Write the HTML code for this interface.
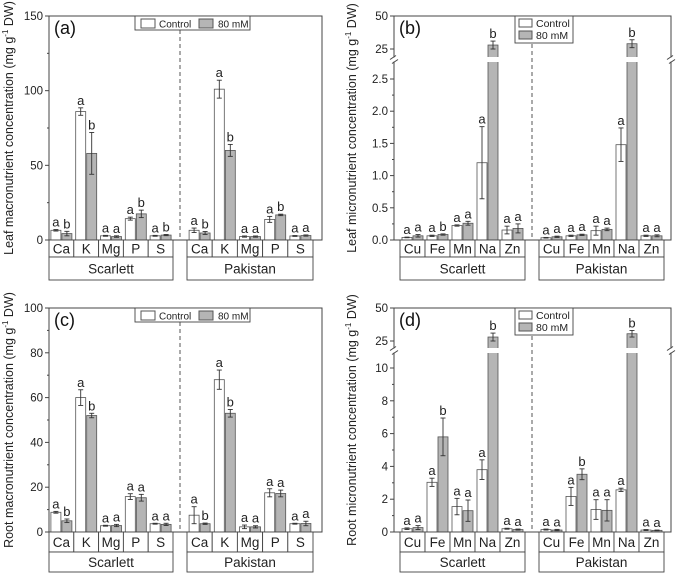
<!DOCTYPE html>
<html><head><meta charset="utf-8"><style>
body{margin:0;background:#fff}
svg{display:block;font-family:"Liberation Sans",sans-serif}
</style></head><body>
<svg id="fig" width="676" height="573" viewBox="0 0 676 573" xmlns="http://www.w3.org/2000/svg"></svg>
<script>
// ---------- data ----------
const macroCats = ["Ca","K","Mg","P","S"];
const microCats = ["Cu","Fe","Mn","Na","Zn"];
const groups = ["Scarlett","Pakistan"];

// panel a (leaf macro)
const aCtrl = [[6.5,86,2.8,14.3,2.8],[6.5,101,2.3,13.8,2.7]];
const aCtrlErr = [[0.5,2.5,0.3,1,0.3],[1.5,6,0.4,2,0.3]];
const aTrt = [[4.3,58,2.3,17.5,3.3],[4.7,60,2.3,16.8,3.0]];
const aTrtErr = [[1.5,14,0.5,2.5,0.4],[1,4,0.4,0.5,0.4]];
const aLetters = [["a","b","a","b","a","a","a","b","a","b"],["a","b","a","b","a","a","a","b","a","a"]];

// panel b (leaf micro)
const bCtrl = [[0.04,0.065,0.225,1.2,0.155],[0.035,0.065,0.145,1.48,0.065]];
const bCtrlErr = [[0.005,0.01,0.01,0.56,0.06],[0.005,0.01,0.07,0.26,0.01]];
const bTrt = [[0.065,0.085,0.26,28,0.18],[0.05,0.08,0.165,29,0.065]];
const bTrtErr = [[0.02,0.01,0.03,3,0.07],[0.01,0.01,0.02,3,0.015]];
const bLetters = [["a","a","a","b","a","a","a","b","a","a"],["a","a","a","a","a","a","a","b","a","a"]];

// panel c (root macro)
const cCtrl = [[8.8,60,2.8,15.8,3.7],[7.5,68,2.3,17.5,3.7]];
const cCtrlErr = [[0.4,3.5,0.2,1.3,0.2],[3.8,4.3,0.8,1.8,0.2]];
const cTrt = [[5,52,2.9,15.3,3.4],[3.7,53,2.3,17.2,3.8]];
const cTrtErr = [[0.8,1,0.5,1.5,0.5],[0.3,1.7,0.5,1.5,1]];
const cLetters = [["a","b","a","b","a","a","a","a","a","a"],["a","b","a","b","a","a","a","a","a","a"]];

// panel d (root micro)
const dCtrl = [[0.2,3.03,1.55,3.8,0.2],[0.15,2.17,1.37,2.57,0.12]];
const dCtrlErr = [[0.05,0.25,0.5,0.6,0.03],[0.03,0.55,0.6,0.1,0.03]];
const dTrt = [[0.27,5.8,1.3,28,0.15],[0.12,3.52,1.32,30.5,0.1]];
const dTrtErr = [[0.12,1.15,0.65,3,0.03],[0.04,0.33,0.65,2.5,0.02]];
const dLetters = [["a","a","a","b","a","a","a","b","a","a"],["a","a","a","b","a","a","a","b","a","a"]];

const aTicks = [0,50,100,150];
const bTicksLow = [0,0.5,1,1.5,2,2.5];
const bTicksLowLbl = ["0.0","0.5","1.0","1.5","2.0","2.5"];
const bTicksHigh = [25,50];
const cTicks = [0,20,40,60,80,100];
const dTicksLow = [0,2,4,6,8,10];
const dTicksHigh = [25,50];

// ---------- drawing ----------
const svg = document.getElementById('fig');
const NS = "http://www.w3.org/2000/svg";
function el(tag, attrs, parent, txt){
  const e = document.createElementNS(NS, tag);
  for (const k in attrs) e.setAttribute(k, attrs[k]);
  if (txt !== undefined) e.textContent = txt;
  (parent||svg).appendChild(e);
  return e;
}
const STROKE = "#444";
const GRAY = "#b5b5b5";

function panel(cfg){
  const g = el('g', {});
  
  
  const {x0,x1,yTop,yBot,groupBoxes,cats} = cfg;
  const Y = cfg.yScale;
  const fr = el('rect',{x:x0,y:yTop,width:x1-x0,height:yBot-yTop,fill:'none',stroke:STROKE,'stroke-width':1},g);
  
  
  const dx = (groupBoxes[0][1]+groupBoxes[1][0])/2;
  const ds = el('line',{x1:dx,x2:dx,y1:yTop,y2:yBot,stroke:'#555','stroke-dasharray':'4,3','stroke-width':1},g);
  
  
  cfg.ticks.forEach((t,i)=>{
    const y = Y(t);
    el('line',{x1:x0-4,x2:x0,y1:y,y2:y,stroke:STROKE},g);
    const tl = el('text',{x:x0-6,y:y+4,'text-anchor':'end','font-size':11.5,fill:'#222'},g,cfg.tickLabels?cfg.tickLabels[i]:String(t));
    
    
  });
  (cfg.minor||[]).forEach(t=>{const y=Y(t);el('line',{x1:x0-2,x2:x0,y1:y,y2:y,stroke:STROKE},g);});
  const yt = el('text',{x:0,y:0,'text-anchor':'middle','font-size':12.5,fill:'#222',transform:`translate(${cfg.titleX},${(yTop+yBot)/2}) rotate(-90)`},g);
  
  
  yt.appendChild(document.createTextNode(cfg.title+' (mg g'));
  el('tspan',{dy:-5,'font-size':8},yt,'-1');
  el('tspan',{dy:5},yt,' DW)');
  groups.forEach((gn,gi)=>{
    const [bx0,bx1] = groupBoxes[gi];
    const cw = (bx1-bx0)/cats.length;
    cats.forEach((c,ci)=>{
      const cx = bx0 + cw*(ci+0.5);
      const bw = 10;
      [[cfg.ctrl,cfg.ctrlErr,'#fff',cx-bw-0.5,'control'],[cfg.trt,cfg.trtErr,GRAY,cx+0.5,'treatment']].forEach(([vals,errs,fill,bx,kind],si)=>{
        const v = vals[gi][ci], e = errs[gi][ci];
        const yv = Y(v);
        const r = el('rect',{x:bx,y:yv,width:bw,height:yBot-yv,fill:fill,stroke:'#555','stroke-width':0.8},g);
        
        
        if (cfg.breakGap && yv < cfg.breakGap[0]) {
          el('rect',{x:bx-1,y:cfg.breakGap[0],width:bw+2,height:cfg.breakGap[1]-cfg.breakGap[0],fill:'#fff'},g);
        }
        const mx = bx+bw/2, yh = Y(v+e), yl = Y(Math.max(0,v-e));
        el('line',{x1:mx,x2:mx,y1:yh,y2:yl,stroke:'#333','stroke-width':0.9},g);
        el('line',{x1:mx-2.5,x2:mx+2.5,y1:yh,y2:yh,stroke:'#333','stroke-width':0.9},g);
        el('line',{x1:mx-2.5,x2:mx+2.5,y1:yl,y2:yl,stroke:'#333','stroke-width':0.9},g);
        const lt = el('text',{x:mx,y:yh-3,'text-anchor':'middle','font-size':13,fill:'#222'},g,cfg.letters[gi][ci*2+si]);
        
        
      });
      el('rect',{x:bx0+cw*ci,y:yBot,width:cw,height:cfg.catH,fill:'#fff',stroke:STROKE,'stroke-width':0.9},g);
      const ct = el('text',{x:cx,y:yBot+cfg.catH/2+5,'text-anchor':'middle','font-size':13.5,fill:'#222'},g,c);
      
      
    });
    el('rect',{x:bx0,y:yBot+cfg.catH,width:bx1-bx0,height:cfg.grpH,fill:'#fff',stroke:STROKE,'stroke-width':0.9},g);
    const gt = el('text',{x:(bx0+bx1)/2,y:yBot+cfg.catH+cfg.grpH/2+5,'text-anchor':'middle','font-size':13.5,fill:'#222'},g,gn);
    
    
  });
  if (cfg.breakGap){
    const ym = (cfg.breakGap[0]+cfg.breakGap[1])/2;
    [x0,x1].forEach(xx=>{
      el('rect',{x:xx-4,y:ym-2,width:8,height:4,fill:'#fff'},g);
      el('line',{x1:xx-4,x2:xx+2,y1:ym-0,y2:ym-4,stroke:STROKE},g);
      el('line',{x1:xx-2,x2:xx+4,y1:ym+4,y2:ym,stroke:STROKE},g);
    });
  }
  const pl = el('text',{x:x0+5,y:yTop+18,'font-size':18,fill:'#111'},g,'('+cfg.id+')');
  
  
  const L = cfg.legend;
  const lg = el('g',{},g);
  
  
  el('rect',{x:L.x,y:L.y,width:L.w,height:L.h,fill:'#fff',stroke:STROKE,'stroke-width':0.9},lg);
  if (L.horizontal){
    el('rect',{x:L.x+6,y:L.y+3,width:14,height:9,fill:'#fff',stroke:'#555'},lg);
    el('text',{x:L.x+24,y:L.y+11.5,'font-size':10,fill:'#222'},lg,'Control');
    el('rect',{x:L.x+64,y:L.y+3,width:14,height:9,fill:GRAY,stroke:'#555'},lg);
    el('text',{x:L.x+83,y:L.y+11.5,'font-size':10,fill:'#222'},lg,'80 mM');
  } else {
    el('rect',{x:L.x+4,y:L.y+3,width:13,height:8,fill:'#fff',stroke:'#555'},lg);
    el('text',{x:L.x+21,y:L.y+11,'font-size':10.5,fill:'#222'},lg,'Control');
    el('rect',{x:L.x+4,y:L.y+15,width:13,height:8,fill:GRAY,stroke:'#555'},lg);
    el('text',{x:L.x+21,y:L.y+23,'font-size':10.5,fill:'#222'},lg,'80 mM');
  }
}

function lin(v0,y0,v1,y1){return v=>y0+(v-v0)*(y1-y0)/(v1-v0);}
function brk(lowY0,lowSlope,lowMax,upY25,upSlope){
  return v=> v<=lowMax ? lowY0 - v*lowSlope : upY25 - (v-25)*upSlope;
}

const leftGB = [[49,173],[187,313]];
const rightGB = [[400,525],[539,664]];

panel({id:'a',x0:49,x1:322,yTop:16,yBot:240,groupBoxes:leftGB,cats:macroCats,
  yScale:lin(0,240,150,16),ticks:aTicks,minor:[25,75,125],titleX:13,
  title:'Leaf macronutrient concentration',ctrl:aCtrl,ctrlErr:aCtrlErr,trt:aTrt,trtErr:aTrtErr,letters:aLetters,
  catH:17,grpH:23,legend:{x:135,y:16,w:115,h:14,horizontal:true}});

panel({id:'b',x0:394,x1:671,yTop:16,yBot:240,groupBoxes:rightGB,cats:microCats,
  yScale:brk(240,64.4,2.75,49,1.32),ticks:bTicksLow.concat(bTicksHigh),tickLabels:bTicksLowLbl.concat(["25","50"]),
  minor:[0.25,0.75,1.25,1.75,2.25],titleX:356,breakGap:[57,62],
  title:'Leaf micronutrient concentration',ctrl:bCtrl,ctrlErr:bCtrlErr,trt:bTrt,trtErr:bTrtErr,letters:bLetters,
  catH:17,grpH:23,legend:{x:515,y:16,w:58,h:27,horizontal:false}});

panel({id:'c',x0:49,x1:322,yTop:308,yBot:532,groupBoxes:leftGB,cats:macroCats,
  yScale:lin(0,532,100,308),ticks:cTicks,minor:[10,30,50,70,90],titleX:13,
  title:'Root macronutrient concentration',ctrl:cCtrl,ctrlErr:cCtrlErr,trt:cTrt,trtErr:cTrtErr,letters:cLetters,
  catH:20,grpH:20,legend:{x:135,y:308,w:115,h:14,horizontal:true}});

panel({id:'d',x0:394,x1:671,yTop:308,yBot:532,groupBoxes:rightGB,cats:microCats,
  yScale:brk(532,16.4,11,341,1.32),ticks:dTicksLow.concat(dTicksHigh),
  minor:[1,3,5,7,9],titleX:356,breakGap:[348,353],
  title:'Root micronutrient concentration',ctrl:dCtrl,ctrlErr:dCtrlErr,trt:dTrt,trtErr:dTrtErr,letters:dLetters,
  catH:20,grpH:20,legend:{x:515,y:308,w:58,h:27,horizontal:false}});
</script>
</body></html>
